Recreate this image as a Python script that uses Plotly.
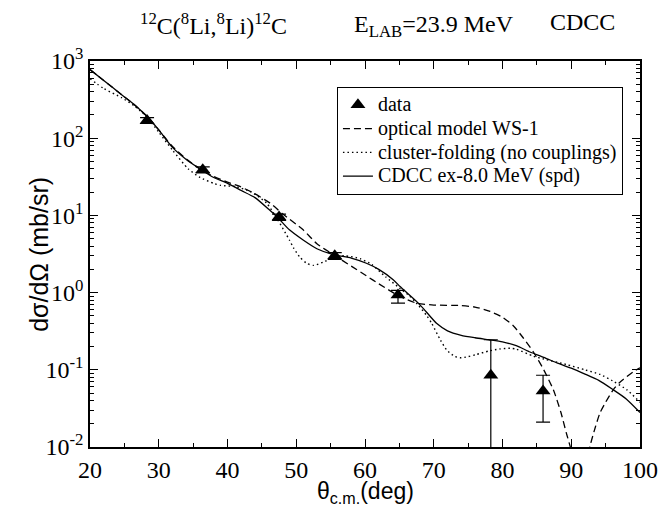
import plotly.graph_objects as go

# Measured elastic scattering data: 12C(8Li,8Li)12C at E_LAB = 23.9 MeV
data_theta = [28.3, 36.4, 47.5, 55.6, 64.8, 78.3, 85.9]
data_xs = [170.0, 39.0, 9.5, 3.0, 0.93, 0.085, 0.053]
data_err_plus = [15.0, 3.5, 0.9, 0.3, 0.14, 0.16, 0.032]
data_err_minus = [15.0, 3.5, 0.9, 0.3, 0.20, 0.084, 0.032]

# Optical model WS-1 calculation
om_theta = [20, 22, 24.6, 26.5, 28.2, 30, 32, 34, 36, 38, 40, 41.8, 44, 46.2, 48, 51,
            53, 55.4, 58, 60.2, 62, 65.1, 67.5, 70, 73.8, 76, 78.2, 80, 81.6, 83,
            84.5, 86, 87.4, 88.5, 89.3, 90, 90.7, 91.3, 92, 92.7, 93.5, 94.2, 95,
            96.1, 97, 98.1, 99, 100]
om_xs = [775, 560, 366, 270, 195, 128, 78, 54, 40, 32, 27, 23.7, 19, 14.4, 10.5, 6.5,
         4.3, 3.1, 2.2, 1.65, 1.3, 0.89, 0.73, 0.69, 0.68, 0.65, 0.57, 0.48, 0.37, 0.26,
         0.17, 0.1, 0.055, 0.028, 0.015, 0.009, 0.004, 0.001, 0.004, 0.01, 0.018, 0.028, 0.038,
         0.055, 0.068, 0.082, 0.094, 0.106]

# Cluster-folding potential, no couplings
cf_theta = [20, 22, 24.6, 26.5, 28.2, 30, 32, 34.3, 36, 38, 39, 41.3, 43.5, 45.7, 47.4,
            49, 49.6, 50.5, 51.5, 52.5, 54, 55.5, 57, 59.3, 61, 63, 65, 66.5, 67.8, 69,
            69.7, 71, 71.9, 73, 73.8, 75, 76.2, 78, 79.6, 81.1, 82, 84.5, 86, 89.3, 92,
            94.2, 96, 98.1, 100]
cf_xs = [590, 440, 335, 260, 192, 120, 70, 40, 31, 26, 24.5, 23.5, 20, 14.4, 8.5,
         4.8, 3.8, 2.9, 2.4, 2.25, 2.5, 2.9, 3.0, 2.75, 2.3, 1.6, 1.15, 0.9, 0.68, 0.5,
         0.40, 0.24, 0.18, 0.15, 0.143, 0.148, 0.158, 0.175, 0.186, 0.19, 0.185, 0.15, 0.138, 0.117, 0.1,
         0.087, 0.072, 0.055, 0.038]

# CDCC calculation, continuum up to 8.0 MeV (s, p, d waves)
cdcc_theta = [20, 22, 24.6, 26.5, 28.2, 30, 32, 34, 36, 38, 40, 42, 44, 46, 47.4, 49,
              51, 53, 55.4, 58, 60.2, 62, 64.1, 65.1, 67.5, 68.5, 70.4, 72, 74, 76,
              78, 80, 82, 84, 86, 88, 90, 92, 94, 96, 98, 100]
cdcc_xs = [775, 560, 366, 270, 195, 128, 76, 53, 40, 31, 26, 21, 17, 12, 9.2, 6.5,
           4.8, 3.7, 3.1, 2.8, 2.4, 2.0, 1.47, 1.2, 0.77, 0.62, 0.40, 0.32, 0.28, 0.26,
           0.245, 0.23, 0.205, 0.17, 0.145, 0.122, 0.105, 0.088, 0.073, 0.056, 0.042, 0.028]

y_tickvals = [0.01, 0.1, 1, 10, 100, 1000]
y_ticktext = ["10<sup>-2</sup>", "10<sup>-1</sup>", "10<sup>0</sup>",
              "10<sup>1</sup>", "10<sup>2</sup>", "10<sup>3</sup>"]
x_tickvals = [20, 30, 40, 50, 60, 70, 80, 90, 100]
x_ticktext = [str(v) for v in x_tickvals]

serif = "Liberation Serif"
sans = "Liberation Sans"


def legend_label(text):
    # larger glyphs than the legend's row height would normally allow
    return '<span style="font-size:20px">' + text + "</span>"


fig = go.Figure()

fig.add_trace(go.Scatter(
    x=data_theta, y=data_xs, mode="markers", name=legend_label("data"),
    marker=dict(symbol="triangle-up", size=13, color="black"),
    error_y=dict(type="data", array=data_err_plus, arrayminus=data_err_minus,
                 color="black", thickness=1.2, width=7),
))
fig.add_trace(go.Scatter(
    x=om_theta, y=om_xs, mode="lines", name=legend_label("optical model WS-1"),
    line=dict(color="black", width=1.3, dash="7px,4px", shape="spline", smoothing=0.6),
))
fig.add_trace(go.Scatter(
    x=cf_theta, y=cf_xs, mode="lines", name=legend_label("cluster-folding (no couplings)"),
    line=dict(color="black", width=1.4, dash="1.5px,3px", shape="spline", smoothing=0.6),
))
fig.add_trace(go.Scatter(
    x=cdcc_theta, y=cdcc_xs, mode="lines", name=legend_label("CDCC ex-8.0 MeV (spd)"),
    line=dict(color="black", width=1.3, shape="spline", smoothing=0.6),
))

tick_font = dict(family=serif, size=24, color="black")

fig.update_xaxes(
    range=[20, 100], tickmode="array", tickvals=x_tickvals, ticktext=x_ticktext,
    minor=dict(dtick=5, ticks="inside", ticklen=4, tickcolor="black", showgrid=False),
    showline=True, linecolor="black", linewidth=1.5, mirror="ticks",
    ticks="inside", ticklen=8, tickwidth=1.2, tickcolor="black",
    showgrid=False, zeroline=False, tickfont=tick_font,
)
fig.update_yaxes(
    type="log", range=[-2, 3], tickmode="array", tickvals=y_tickvals, ticktext=y_ticktext,
    minor=dict(dtick="D1", ticks="inside", ticklen=4, tickcolor="black", showgrid=False),
    showline=True, linecolor="black", linewidth=1.5, mirror="ticks",
    ticks="inside", ticklen=8, tickwidth=1.2, tickcolor="black",
    showgrid=False, zeroline=False, tickfont=tick_font,
)

# Axis titles
fig.add_annotation(text="θ<sub>c.m.</sub>(deg)", xref="paper", yref="paper",
                   x=0.5, y=-0.074, xanchor="center", yanchor="top",
                   showarrow=False, font=dict(family=sans, size=23, color="black"))
fig.add_annotation(text="dσ/dΩ (mb/sr)", xref="paper", yref="paper",
                   x=-0.093, y=0.5, xanchor="center", yanchor="middle", textangle=-90,
                   showarrow=False, font=dict(family=sans, size=25, color="black"))

# Figure heading
title_font = dict(family=serif, size=24, color="black")
fig.add_annotation(text="<sup>12</sup>C(<sup>8</sup>Li,<sup>8</sup>Li)<sup>12</sup>C",
                   xref="paper", yref="paper", x=0.225, y=1.095,
                   xanchor="center", yanchor="middle", showarrow=False, font=title_font)
fig.add_annotation(text="E<sub>LAB</sub>=23.9 MeV",
                   xref="paper", yref="paper", x=0.625, y=1.09,
                   xanchor="center", yanchor="middle", showarrow=False, font=title_font)
fig.add_annotation(text="CDCC",
                   xref="paper", yref="paper", x=0.896, y=1.1,
                   xanchor="center", yanchor="middle", showarrow=False, font=title_font)

fig.update_layout(
    width=659, height=508,
    margin=dict(l=90, r=19, t=61, b=61, autoexpand=False),
    paper_bgcolor="white", plot_bgcolor="white",
    font=dict(family=serif, color="black"),
    showlegend=True,
    legend=dict(
        x=0.449, y=0.933, xanchor="left", yanchor="top",
        bgcolor="white", bordercolor="black", borderwidth=1,
        font=dict(family=serif, size=16, color="black"),
        itemwidth=30, tracegroupgap=0,
    ),
)

fig.write_html("out.html")
